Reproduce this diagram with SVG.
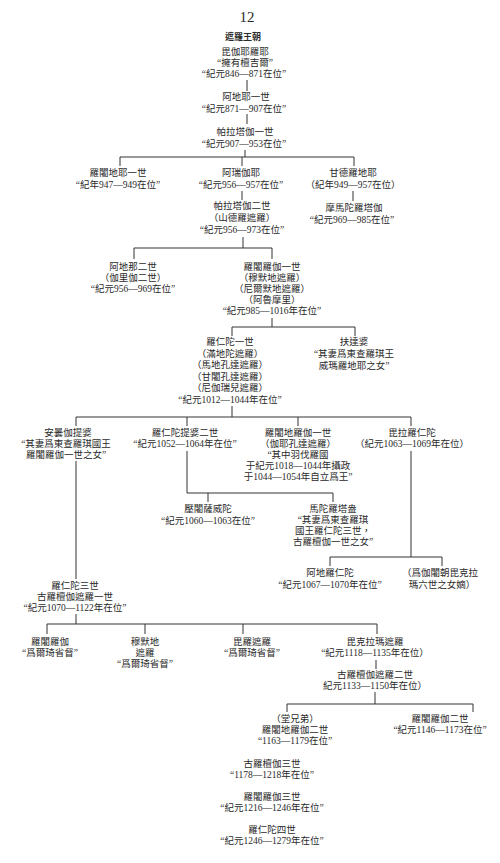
<svg xmlns="http://www.w3.org/2000/svg" width="500" height="863" viewBox="0 0 500 863">
<style>
text{font-family:"Liberation Serif","Noto Sans CJK TC","Noto Sans CJK SC",serif;font-size:9.5px;fill:#2a2a2a;text-anchor:middle}
.pg{font-size:15px}
.ttl{font-size:9px;font-weight:bold}
#links path{fill:none;stroke:#333;stroke-width:1}
</style>
<rect width="500" height="863" fill="#fff"/>
<g id="links">
<path d="M247 80V91M247 114V124M245 150V157M120 157H354M120 157V166M242 157V166M354 157V166"/>
<path d="M242 191V200M353 191V201"/>
<path d="M243 237V248M134 248H272M134 248V259M272 248V259"/>
<path d="M272 318V327M232 327H355M232 327V336M355 327V336"/>
<path d="M232 406V417M76 417H411M76 417V426M187 417V426M298 417V426M411 417V426"/>
<path d="M187 451V493H333M208 493V502M333 493V502"/>
<path d="M411 451V557M330 557H442M330 557V566M442 557V566"/>
<path d="M76 461V579"/>
<path d="M76 614V624M47 624H377M47 624V634M145 624V634M243 624V634M377 624V634"/>
<path d="M376 660V669M375 692V704M287 704H473M287 704V712M473 704V712"/>
</g>
<g id="n0"><text class="pg" x="247" y="22">12</text></g>
<g id="n1"><text class="ttl" x="243" y="40">遮羅王朝</text></g>
<g id="n2"><text x="245" y="55"><tspan x="245">毘伽耶羅耶</tspan><tspan x="245" dy="11">“擁有檀吉爾”</tspan><tspan x="244" dy="11">“紀元846—871在位”</tspan></text></g>
<g id="n3"><text x="246" y="100"><tspan x="246">阿地耶一世</tspan><tspan x="244" dy="12">“紀元871—907在位”</tspan></text></g>
<g id="n4"><text x="245" y="135"><tspan x="245">帕拉塔伽一世</tspan><tspan x="244" dy="12">“紀元907—953在位”</tspan></text></g>
<g id="n5"><text x="118" y="176"><tspan x="118">羅闍地耶一世</tspan><tspan x="118" dy="12">“紀年947—949在位”</tspan></text></g>
<g id="n6"><text x="241" y="176"><tspan x="241">阿瑞伽耶</tspan><tspan x="241" dy="12">“紀元956—957在位”</tspan></text></g>
<g id="n7"><text x="353" y="176"><tspan x="353">甘德羅地耶</tspan><tspan x="353" dy="12">（紀年949—957在位）</tspan></text></g>
<g id="n8"><text x="242" y="209"><tspan x="242">帕拉塔伽二世</tspan><tspan x="242" dy="12">（山德羅遮羅）</tspan><tspan x="242" dy="12">“紀元956—973在位”</tspan></text></g>
<g id="n9"><text x="354" y="211"><tspan x="354">摩馬陀羅塔伽</tspan><tspan x="352" dy="12">“紀元969—985在位”</tspan></text></g>
<g id="n10"><text x="133" y="270"><tspan x="133">阿地那二世</tspan><tspan x="133" dy="11">（伽里伽二世）</tspan><tspan x="133" dy="11">“紀元956—969在位”</tspan></text></g>
<g id="n11"><text x="272" y="270"><tspan x="272">羅闍羅伽一世</tspan><tspan x="272" dy="11">（穆默地遮羅）</tspan><tspan x="272" dy="11">（尼爾默地遮羅）</tspan><tspan x="272" dy="11">（阿魯摩里）</tspan><tspan x="272" dy="11">“紀元985—1016年在位”</tspan></text></g>
<g id="n12"><text x="230" y="345"><tspan x="230">羅仁陀一世</tspan><tspan x="230" dy="11.5">（滿地陀遮羅）</tspan><tspan x="230" dy="11.5">（馬地孔達遮羅）</tspan><tspan x="230" dy="11.5">（甘闍孔達遮羅）</tspan><tspan x="230" dy="11.5">（尼伽瑞兒遮羅）</tspan><tspan x="230" dy="11.5">“紀元1012—1044年在位”</tspan></text></g>
<g id="n13"><text x="354" y="345"><tspan x="354">扶達婆</tspan><tspan x="354" dy="12">“其妻爲東查羅琪王</tspan><tspan x="354" dy="12">威瑪羅地耶之女”</tspan></text></g>
<g id="n14"><text x="68" y="436"><tspan x="68">安曇伽提婆</tspan><tspan x="66" dy="11">“其妻爲東查羅琪國王</tspan><tspan x="66" dy="11">羅闍羅伽一世之女”</tspan></text></g>
<g id="n15"><text x="185" y="436"><tspan x="185">羅仁陀提婆二世</tspan><tspan x="185" dy="11">“紀元1052—1064年在位”</tspan></text></g>
<g id="n16"><text x="298" y="436"><tspan x="298">羅闍地羅伽一世</tspan><tspan x="298" dy="11">（伽耶孔達遮羅）</tspan><tspan x="298" dy="11">“其中羽伐羅國</tspan><tspan x="298" dy="11">于紀元1018—1044年攝政</tspan><tspan x="298" dy="11">于1044—1054年自立爲王”</tspan></text></g>
<g id="n17"><text x="412" y="436"><tspan x="412">毘拉羅仁陀</tspan><tspan x="412" dy="11">（紀元1063—1069年在位）</tspan></text></g>
<g id="n18"><text x="208" y="512"><tspan x="208">壓闍薩威陀</tspan><tspan x="208" dy="12">“紀元1060—1063在位”</tspan></text></g>
<g id="n19"><text x="333" y="512"><tspan x="333">馬陀羅塔盎</tspan><tspan x="333" dy="11">“其妻爲東查羅琪</tspan><tspan x="333" dy="11">國王羅仁陀三世，</tspan><tspan x="333" dy="11">古羅檀伽一世之女”</tspan></text></g>
<g id="n20"><text x="330" y="576"><tspan x="330">阿地羅仁陀</tspan><tspan x="330" dy="12">“紀元1067—1070年在位”</tspan></text></g>
<g id="n21"><text x="440" y="576"><tspan x="440">（爲伽闍朝毘克拉</tspan><tspan x="442" dy="12">瑪六世之女嫡）</tspan></text></g>
<g id="n22"><text x="75" y="589"><tspan x="75">羅仁陀三世</tspan><tspan x="75" dy="11">古羅檀伽遮羅一世</tspan><tspan x="75" dy="11">“紀元1070—1122年在位”</tspan></text></g>
<g id="n23"><text x="50" y="645"><tspan x="50">羅闍羅伽</tspan><tspan x="50" dy="11">“爲爾琦省督”</tspan></text></g>
<g id="n24"><text x="145" y="645"><tspan x="145">穆默地</tspan><tspan x="145" dy="11">遮羅</tspan><tspan x="145" dy="11">“爲爾琦省督”</tspan></text></g>
<g id="n25"><text x="252" y="645"><tspan x="252">毘羅遮羅</tspan><tspan x="252" dy="11">“爲爾琦省督”</tspan></text></g>
<g id="n26"><text x="375" y="645"><tspan x="375">毘克拉瑪遮羅</tspan><tspan x="375" dy="11">“紀元1118—1135年在位）</tspan></text></g>
<g id="n27"><text x="375" y="678"><tspan x="375">古羅檀伽遮羅二世</tspan><tspan x="375" dy="11">紀元1133—1150年在位）</tspan></text></g>
<g id="n28"><text x="295" y="722"><tspan x="295">（堂兄弟）</tspan><tspan x="295" dy="11">羅闍地羅伽二世</tspan><tspan x="295" dy="11">“1163—1179在位”</tspan></text></g>
<g id="n29"><text x="440" y="722"><tspan x="440">羅闍羅伽二世</tspan><tspan x="440" dy="11">“紀元1146—1173在位”</tspan></text></g>
<g id="n30"><text x="272" y="767"><tspan x="272">古羅檀伽三世</tspan><tspan x="272" dy="11">“1178—1218年在位”</tspan></text></g>
<g id="n31"><text x="272" y="800"><tspan x="272">羅闍羅伽三世</tspan><tspan x="272" dy="11">“紀元1216—1246年在位”</tspan></text></g>
<g id="n32"><text x="272" y="833"><tspan x="272">羅仁陀四世</tspan><tspan x="272" dy="11">“紀元1246—1279年在位”</tspan></text></g>
</svg>
